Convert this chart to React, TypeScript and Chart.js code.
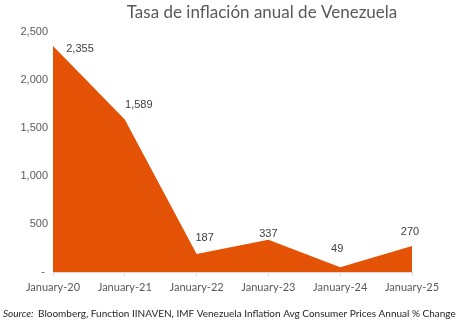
import React, { useEffect, useRef } from "react";
import { Chart, registerables } from "chart.js";

Chart.register(...registerables);

const categories = ["January-20", "January-21", "January-22", "January-23", "January-24", "January-25"];
const inflation = [2355, 1589, 187, 337, 49, 270];
const yTicks = [0, 500, 1000, 1500, 2000, 2500];
const titleText = "Tasa de inflación anual de Venezuela";
const sourceLabel = "Source:";
const sourceText = " Bloomberg, Function IINAVEN, IMF Venezuela Inflation Avg Consumer Prices Annual % Change";
// label offsets (dx, dy) relative to each point, mimicking the original placement
const labelOffsets: [number, number][] = [[27, 3], [14, -14], [8, -16], [0, -6], [-3, -18], [-2, -14]];

const ORANGE = "#E35205";

const fmt = (v: number) => (v === 0 ? "- " : v.toLocaleString("en-US"));

const decorPlugin = {
  id: "decor",
  afterDatasetsDraw(chart: any) {
    const ctx = chart.ctx;
    const meta = chart.getDatasetMeta(0);
    ctx.save();
    ctx.font = "11px 'Liberation Sans'";
    ctx.fillStyle = "#404040";
    ctx.textAlign = "center";
    ctx.textBaseline = "middle";
    meta.data.forEach((pt: any, i: number) => {
      const [dx, dy] = labelOffsets[i];
      ctx.fillText(inflation[i].toLocaleString("en-US"), pt.x + dx, pt.y + dy);
    });
    // title
    ctx.font = "17px Lato";
    ctx.fillStyle = "#595959";
    ctx.fillText(titleText, 262, 13);
    // source
    ctx.textAlign = "left";
    ctx.font = "italic 10px Lato";
    ctx.fillStyle = "#1f1f1f";
    ctx.fillText(sourceLabel, 3, 314);
    const w = ctx.measureText(sourceLabel).width;
    ctx.font = "10px Lato";
    ctx.fillText(sourceText, 3 + w + 2, 314);
    ctx.restore();
  },
};

export default function App() {
  const ref = useRef<HTMLCanvasElement | null>(null);
  useEffect(() => {
    if (!ref.current) return;
    const chart = new Chart(ref.current, {
      type: "line",
      data: {
        labels: categories,
        datasets: [
          {
            data: inflation,
            fill: "origin",
            backgroundColor: ORANGE,
            borderColor: ORANGE,
            borderWidth: 0,
            pointRadius: 0,
            tension: 0,
          },
        ],
      },
      options: {
        responsive: false,
        animation: false,
        layout: { padding: { top: 32, right: 50, left: 0, bottom: 22 } },
        plugins: { legend: { display: false }, title: { display: false }, tooltip: { enabled: false } },
        scales: {
          x: {
            offset: false,
            grid: { display: true, drawOnChartArea: false, drawTicks: true, tickLength: 4, color: "#d9d9d9" },
            border: { display: true, color: "#d9d9d9" },
            ticks: { color: "#595959", font: { family: "Lato", size: 11 }, padding: 5, maxRotation: 0, autoSkip: false },
            afterFit: (s: any) => { s.height = 30; },
          },
          y: {
            min: 0,
            max: 2500,
            grid: { display: false, drawTicks: false },
            border: { display: false },
            afterBuildTicks: (s: any) => { s.ticks = yTicks.map((v) => ({ value: v })); },
            ticks: {
              color: "#595959",
              font: { family: "Liberation Sans", size: 11 },
              padding: 5,
              callback: (v: any) => fmt(Number(v)),
            },
            afterFit: (s: any) => { s.width = 53; },
          },
        },
      },
      plugins: [decorPlugin],
    });
    return () => chart.destroy();
  }, []);
  return (
    <div style={{ position: "fixed", left: 0, top: 0, width: 462, height: 324, background: "#fff" }}>
      <canvas ref={ref} width={462} height={324} style={{ display: "block" }} />
    </div>
  );
}
